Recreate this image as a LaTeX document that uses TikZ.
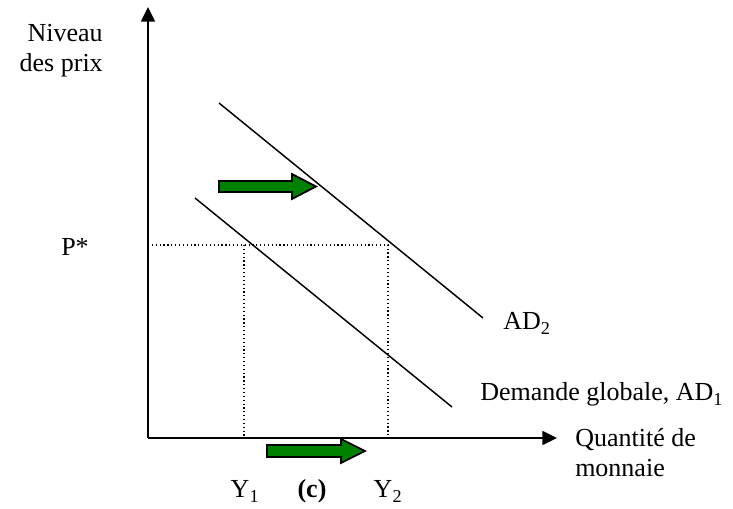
\documentclass[tikz,border=0pt]{standalone}
\usepackage{fontspec}
\setmainfont{Liberation Serif}
\usetikzlibrary{arrows.meta}
\begin{document}
\begin{tikzpicture}[x=0.75pt,y=-0.75pt,
  lbl/.style={font=\fontsize{19.5}{22.5}\selectfont, inner sep=0pt},
  axis/.style={line width=1.1pt, -{Triangle[length=11pt,width=10.5pt]}},
  curve/.style={line width=1.1pt},
  guide/.style={dotted, line width=0.9pt},
  shiftarrow/.style={draw=black, line width=1.3pt, fill=green!50!black, line join=miter}]
\useasboundingbox (0,0) rectangle (733,509);
% axes
\coordinate (O) at (148,438);
\coordinate (ytop) at (148,7);
\coordinate (xend) at (557,438);
\draw[axis] (O) -- (ytop);
\draw[axis] (O) -- (xend);
% demand curves
\coordinate (ad1a) at (195,198);
\coordinate (ad1b) at (452,407);
\coordinate (ad2a) at (219,103);
\coordinate (ad2b) at (483,318);
\draw[curve] (ad1a) -- (ad1b);
\draw[curve] (ad2a) -- (ad2b);
% dotted guides
\coordinate (pstar) at (148,245);
\coordinate (g2) at (388,245);
\coordinate (g1) at (244,245);
\coordinate (y1) at (244,438);
\coordinate (y2) at (388,438);
\draw[guide] (pstar) -- (g2) -- (y2);
\draw[guide] (g1) -- (y1);
% shift arrows
\draw[shiftarrow] (219,181) -- (292,181) -- (292,174) -- (316,186.5) -- (292,199) -- (292,192) -- (219,192) -- cycle;
\draw[shiftarrow] (267,445) -- (341,445) -- (341,439) -- (365,451) -- (341,463) -- (341,457) -- (267,457) -- cycle;
% labels
\node[lbl, anchor=base east] (niv) at (103,42) {Niveau};
\node[lbl, anchor=base east] (des) at (103,72) {des prix};
\node[lbl, anchor=base east] (P) at (89,256) {P*};
\node[lbl, anchor=base west] (ad2) at (503,330) {AD\textsubscript{2}};
\node[lbl, anchor=base west] (ad1) at (480,401) {Demande globale, AD\textsubscript{1}};
\node[lbl, anchor=base west] (q1) at (575,447) {Quantité de};
\node[lbl, anchor=base west] (q2) at (575,477) {monnaie};
\node[lbl, anchor=base] (Y1) at (245,498) {Y\textsubscript{1}};
\node[lbl, anchor=base] (c) at (312,498) {\bfseries (c)};
\node[lbl, anchor=base] (Y2) at (388,498) {Y\textsubscript{2}};
\end{tikzpicture}
\end{document}
